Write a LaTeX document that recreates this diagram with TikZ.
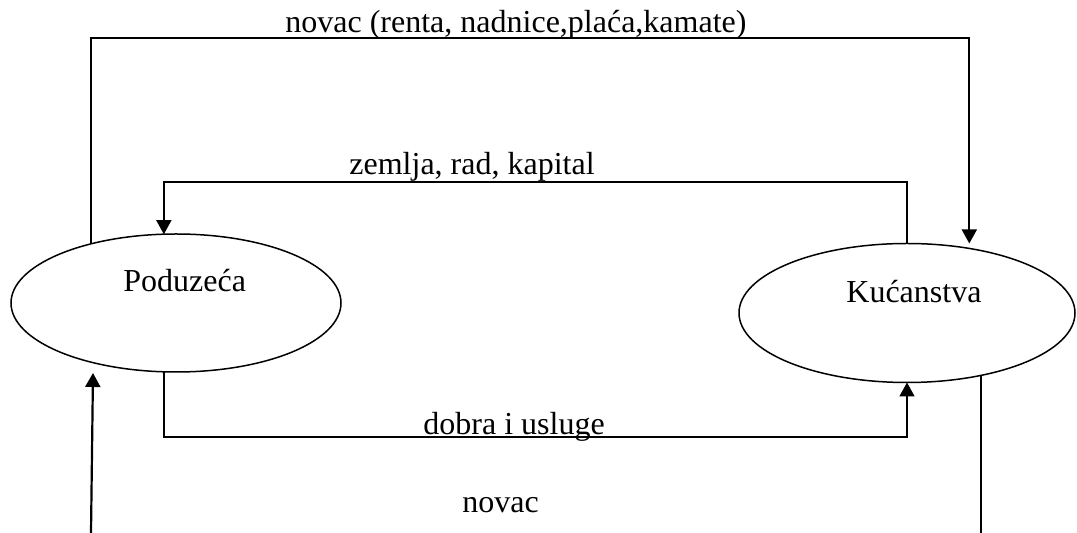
\documentclass[tikz,border=0pt]{standalone}
\usepackage{fontspec}
\setmainfont{Liberation Serif}
\usetikzlibrary{shapes.geometric,arrows.meta}
\begin{document}
\begin{tikzpicture}[x=0.5pt,y=-0.5pt,
  sector/.style={draw,ellipse,line width=0.75pt,inner sep=0pt,outer sep=0pt},
  flow/.style={line width=0.8pt},
  flowarrow/.style={line width=0.9pt,-{Triangle[width=7.5pt,length=7pt]}},
  heavyarrow/.style={line width=1.1pt,-{Triangle[width=7.5pt,length=7pt]}},
  lbl/.style={inner sep=0pt,anchor=base west,font=\fontsize{16}{19}\selectfont}]
\useasboundingbox (0,0) rectangle (1077,533);
% sectors
\node[sector,minimum width=165pt,minimum height=69pt] (pod) at (176,303) {};
\node[sector,minimum width=168pt,minimum height=69.5pt] (kuc) at (907,313) {};
\node[lbl] (podtext) at (123,292) {Poduzeća};
\node[lbl] (kuctext) at (846,303) {Kućanstva};
% levels
\coordinate (ytop) at (0,38);
\coordinate (ymid) at (0,182);
\coordinate (ybot) at (0,437);
\coordinate (yedge) at (0,533);
% flows
\draw[flowarrow,shorten >=2.5pt] (pod.145) -- (pod.145 |- ytop) -| (kuc.46);
\draw[flowarrow] (kuc.north) -- (kuc.north |- ymid) -| (pod.100);
\draw[flowarrow] (pod.-100) -- (pod.-100 |- ybot) -| (kuc.south);
\coordinate (lefttail) at (91,533);
\coordinate (lefthead) at (93,373);
\draw[heavyarrow] (lefttail) -- (lefthead);
\draw[flow] (kuc.-40) -- (kuc.-40 |- yedge);
% labels
\node[lbl] (ltop) at (285,32.5) {novac (renta, nadnice,plaća,kamate)};
\node[lbl] (lmid) at (349,175) {zemlja, rad, kapital};
\node[lbl] (lbot) at (423,435) {dobra i usluge};
\node[lbl] (lnov) at (462,513) {novac};
\end{tikzpicture}
\end{document}
